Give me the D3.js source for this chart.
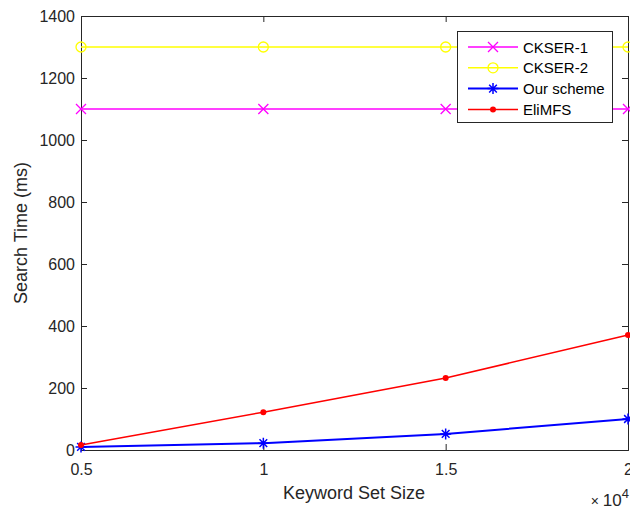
<!DOCTYPE html>
<html>
<head>
<meta charset="utf-8">
<script src="https://cdn.jsdelivr.net/npm/d3@7"></script>
<style>
  body { margin: 0; background: #fff; }
  svg { display: block; font-family: "Liberation Sans", Arial, sans-serif; }
</style>
</head>
<body>
<svg id="chart" width="630" height="509"></svg>
<script>
const width = 630, height = 509;
const margin = { left: 81, right: 2, top: 16, bottom: 59 };

// data
const keywordSizes = [0.5, 1, 1.5, 2]; // x 10^4
const ckser1 = [1100, 1100, 1100, 1100];
const ckser2 = [1300, 1300, 1300, 1300];
const ourScheme = [10, 22, 52, 100];
const eliMFS = [16, 122, 232, 371];
const xTicks = [0.5, 1, 1.5, 2];
const yTicks = [0, 200, 400, 600, 800, 1000, 1200, 1400];

const series = [
  { name: "CKSER-1", values: ckser1, color: "#ff00ff", marker: "x" },
  { name: "CKSER-2", values: ckser2, color: "#ffff00", marker: "o" },
  { name: "Our scheme", values: ourScheme, color: "#0000ff", marker: "*" },
  { name: "EliMFS", values: eliMFS, color: "#ff0000", marker: "." }
];

const svg = d3.select("#chart");
const x = d3.scaleLinear().domain([0.5, 2]).range([margin.left, width - margin.right]);
const y = d3.scaleLinear().domain([0, 1400]).range([height - margin.bottom, margin.top]);

const tickColor = "#262626";

// axes
svg.append("g").attr("transform", `translate(0,${height - margin.bottom})`)
  .call(d3.axisBottom(x).tickValues(xTicks).tickSize(-6).tickPadding(14).tickFormat(d3.format("")));
svg.append("g").attr("transform", `translate(${margin.left},0)`)
  .call(d3.axisLeft(y).tickValues(yTicks).tickSize(-6).tickPadding(6).tickFormat(d3.format("d")));
svg.append("g").attr("transform", `translate(0,${margin.top})`)
  .call(d3.axisTop(x).tickValues(xTicks).tickSize(-6).tickFormat(""));
svg.append("g").attr("transform", `translate(${width - margin.right},0)`)
  .call(d3.axisRight(y).tickValues(yTicks).tickSize(-6).tickFormat(""));

svg.selectAll(".domain").attr("stroke", "#262626");
svg.selectAll(".tick line").attr("stroke", "#262626");
svg.selectAll(".tick text").attr("fill", tickColor).style("font-size", "16px");

// titles
svg.append("text").attr("x", 354).attr("y", 499).attr("text-anchor", "middle")
  .attr("fill", tickColor).style("font-size", "18px").text("Keyword Set Size");
svg.append("text").attr("transform", "translate(27,233) rotate(-90)").attr("text-anchor", "middle")
  .attr("fill", tickColor).style("font-size", "18px").text("Search Time (ms)");
const exp = svg.append("text").attr("x", 629).attr("y", 506).attr("text-anchor", "end")
  .attr("fill", tickColor).style("font-size", "17px");
exp.append("tspan").style("font-size", "14px").text("× ");
exp.append("tspan").text("10");
exp.append("tspan").attr("dy", -8).style("font-size", "13px").text("4");

function drawMarker(g, type, color, cx, cy) {
  if (type === "x") {
    g.append("path").attr("d", `M${cx-5},${cy-5}L${cx+5},${cy+5}M${cx-5},${cy+5}L${cx+5},${cy-5}`)
      .attr("stroke", color).attr("stroke-width", 1.3);
  } else if (type === "o") {
    g.append("circle").attr("cx", cx).attr("cy", cy).attr("r", 5)
      .attr("fill", "none").attr("stroke", color).attr("stroke-width", 1.3);
  } else if (type === "*") {
    const r = 5.5;
    g.append("path").attr("d",
      `M${cx},${cy-r}L${cx},${cy+r}M${cx-r},${cy}L${cx+r},${cy}` +
      `M${cx-r*0.7},${cy-r*0.7}L${cx+r*0.7},${cy+r*0.7}M${cx-r*0.7},${cy+r*0.7}L${cx+r*0.7},${cy-r*0.7}`)
      .attr("stroke", color).attr("stroke-width", 1.5);
  } else {
    g.append("circle").attr("cx", cx).attr("cy", cy).attr("r", 3).attr("fill", color);
  }
}

const line = d3.line().x((d, i) => x(keywordSizes[i])).y(d => y(d));
series.forEach(s => {
  const g = svg.append("g");
  g.append("path").datum(s.values).attr("d", line).attr("fill", "none")
    .attr("stroke", s.color).attr("stroke-width", s.marker === "*" ? 2 : 1.5);
  s.values.forEach((v, i) => drawMarker(g, s.marker, s.color, x(keywordSizes[i]), y(v)));
});

// legend
const lg = svg.append("g");
lg.append("rect").attr("x", 457.5).attr("y", 31.5).attr("width", 155).attr("height", 91)
  .attr("fill", "#fff").attr("stroke", "#262626").attr("stroke-width", 1);
series.forEach((s, i) => {
  const ly = 47 + i * 20.8;
  lg.append("line").attr("x1", 468).attr("x2", 518).attr("y1", ly).attr("y2", ly)
    .attr("stroke", s.color).attr("stroke-width", s.marker === "*" ? 2 : 1.5);
  drawMarker(lg, s.marker, s.color, 493, ly);
  lg.append("text").attr("x", 523).attr("y", ly + 5.5).attr("fill", "#000")
    .style("font-size", "15px").text(s.name);
});
</script>
</body>
</html>
